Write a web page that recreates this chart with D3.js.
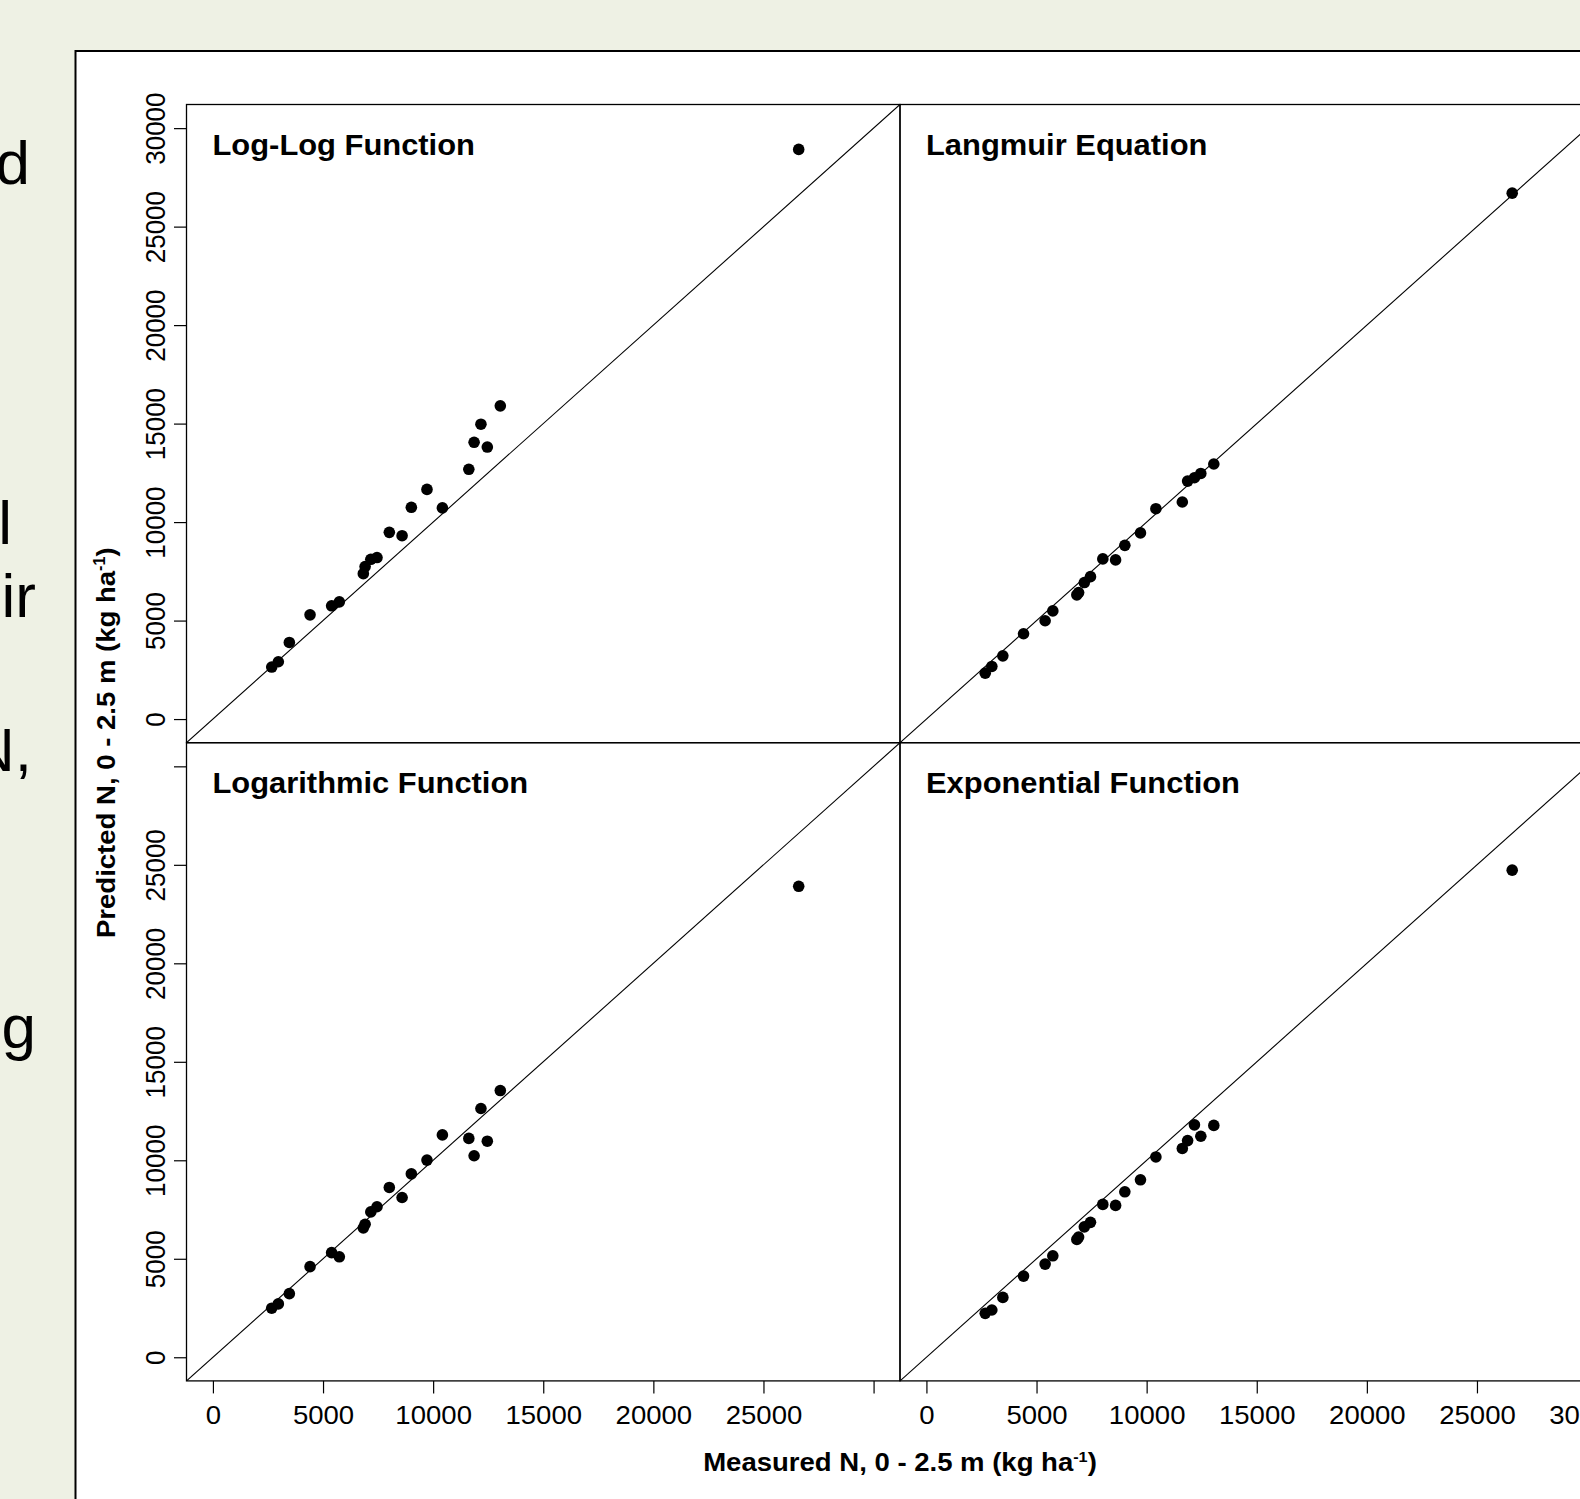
<!DOCTYPE html>
<html>
<head>
<meta charset="utf-8">
<script src="https://d3js.org/d3.v7.min.js"></script>
<style>
  body { margin: 0; background: #eef1e4; }
  svg { display: block; }
  text { font-family: "Liberation Sans", Arial, Helvetica, sans-serif; fill: #000; }
</style>
</head>
<body>
<div id="chart"></div>
<script>
// measured N, 0 - 2.5 m (kg/ha), same for every panel
const measured = [2670, 2970, 3470, 4410, 5390, 5740, 6830, 6910, 7170, 7450,
  8010, 8590, 9010, 9720, 10420, 11620, 11860, 12170, 12460, 13050, 26600];

// predicted N for each model
const predLogLog = [2640, 2910, 3890, 5290, 5750, 5950, 7380, 7740, 8110, 8200,
  9480, 9310, 10750, 11660, 10720, 12680, 14050, 14970, 13810, 15900, 28920];
const predLangmuir = [2330, 2670, 3210, 4330, 4990, 5490, 6300, 6420, 6930, 7230,
  8130, 8080, 8820, 9450, 10680, 11020, 12080, 12250, 12470, 12950, 26700];
const predLogarithmic = [2490, 2710, 3230, 4600, 5310, 5100, 6570, 6750, 7380, 7640,
  8620, 8110, 9310, 10010, 11290, 11110, 10230, 12630, 10970, 13540, 23910];
const predExponential = [2230, 2400, 3040, 4120, 4730, 5150, 5980, 6100, 6620, 6850,
  7760, 7710, 8400, 9010, 10170, 10600, 11000, 11800, 11220, 11770, 24730];

const panelTitles = ["Log-Log Function", "Langmuir Equation", "Logarithmic Function", "Exponential Function"];
const panelPreds = [predLogLog, predLangmuir, predLogarithmic, predExponential];
const tickValues = [0, 5000, 10000, 15000, 20000, 25000, 30000];
const axisDomain = [-1200, 31200];

// bits of the slide text cut off on the left
const slideLines = ["d", "l", "ir", "N,", "g"];

// layout
const W = 1580, H = 1499;
const X0 = 186.5, Y0 = 104.5, PW = 713.5, PH = 638.2;
const slideY = [184, 544, 617, 771, 1048];
const slideX = [30, 12, 36, 32, 36];

const svg = d3.select("#chart").append("svg")
  .attr("width", W)
  .attr("height", H);

svg.append("rect").attr("width", W).attr("height", H).attr("fill", "#eef1e4");

slideLines.forEach((t, i) => {
  svg.append("text")
    .attr("x", slideX[i])
    .attr("y", slideY[i])
    .attr("text-anchor", "end")
    .attr("font-size", 62)
    .text(t);
});

// white figure box
svg.append("rect")
  .attr("x", 75.5).attr("y", 51)
  .attr("width", 1600).attr("height", 1600)
  .attr("fill", "#fff")
  .attr("stroke", "#000")
  .attr("stroke-width", 2);

const fmt = d3.format("d");

panelTitles.forEach((title, i) => {
  const col = i % 2, row = Math.floor(i / 2);
  const px = X0 + col * PW, py = Y0 + row * PH;

  const x = d3.scaleLinear().domain(axisDomain).range([px, px + PW]);
  const y = d3.scaleLinear().domain(axisDomain).range([py + PH, py]);

  const clipId = "clip" + i;
  svg.append("clipPath").attr("id", clipId)
    .append("rect").attr("x", px).attr("y", py).attr("width", PW).attr("height", PH);

  const g = svg.append("g").attr("clip-path", "url(#" + clipId + ")");

  // 1:1 line
  g.append("line")
    .attr("x1", x(axisDomain[0])).attr("y1", y(axisDomain[0]))
    .attr("x2", x(axisDomain[1])).attr("y2", y(axisDomain[1]))
    .attr("stroke", "#000")
    .attr("stroke-width", 1.1);

  const pts = measured.map((m, k) => ({ m: m, p: panelPreds[i][k] }));
  g.selectAll("circle")
    .data(pts)
    .enter()
    .append("circle")
    .attr("cx", d => x(d.m))
    .attr("cy", d => y(d.p))
    .attr("r", 5.8)
    .attr("fill", "#000");

  svg.append("text")
    .attr("transform", "translate(" + (px + 26) + "," + (py + 50.5) + ") scale(1.03,1)")
    .attr("font-size", 30)
    .attr("font-weight", "bold")
    .text(title);

  // panel box
  svg.append("rect")
    .attr("x", px).attr("y", py)
    .attr("width", PW).attr("height", PH)
    .attr("fill", "none")
    .attr("stroke", "#000")
    .attr("stroke-width", 1.3);

  if (col === 0) {
    const ya = svg.append("g")
      .attr("transform", "translate(" + px + ",0)")
      .call(d3.axisLeft(y).tickValues(tickValues).tickSize(12.5).tickSizeOuter(0)
        .tickFormat(d => (row === 1 && d === 30000) ? "" : fmt(d)));
    ya.select(".domain").remove();
    ya.attr("font-size", 26).attr("font-family", null);
    ya.selectAll(".tick line").attr("stroke", "#000").attr("stroke-width", 1.2);
    ya.selectAll(".tick text")
      .attr("x", 0).attr("dy", null)
      .attr("fill", "#000")
      .attr("text-anchor", "middle")
      .attr("transform", "translate(-21.5,0) rotate(-90) scale(1,1.06)");
  }

  if (row === 1) {
    const xa = svg.append("g")
      .attr("transform", "translate(0," + (py + PH) + ")")
      .call(d3.axisBottom(x).tickValues(tickValues).tickSize(12.5).tickSizeOuter(0)
        .tickFormat(d => (col === 0 && d === 30000) ? "" : fmt(d)));
    xa.select(".domain").remove();
    xa.attr("font-size", 26).attr("font-family", null);
    xa.selectAll(".tick line").attr("stroke", "#000").attr("stroke-width", 1.2);
    xa.selectAll(".tick text")
      .attr("y", 43).attr("dy", null)
      .attr("fill", "#000")
      .attr("text-anchor", "middle")
      .attr("transform", "scale(1.06,1)");
  }
});

// axis titles with superscript -1
function unitTitle(sel, main) {
  sel.append("tspan").text(main + " (kg ha");
  sel.append("tspan").attr("dy", -9).attr("font-size", 15).text("-1");
  sel.append("tspan").attr("dy", 9).text(")");
}

const xTitle = svg.append("text")
  .attr("transform", "translate(" + (X0 + PW) + ",1470.7) scale(1.08,1)")
  .attr("text-anchor", "middle")
  .attr("font-size", 25.5)
  .attr("font-weight", "bold");
unitTitle(xTitle, "Measured N, 0 - 2.5 m");

const yTitle = svg.append("text")
  .attr("transform", "translate(114.5," + (Y0 + PH) + ") rotate(-90) scale(1.08,1.04)")
  .attr("text-anchor", "middle")
  .attr("font-size", 25.5)
  .attr("font-weight", "bold");
unitTitle(yTitle, "Predicted N, 0 - 2.5 m");
</script>
</body>
</html>
